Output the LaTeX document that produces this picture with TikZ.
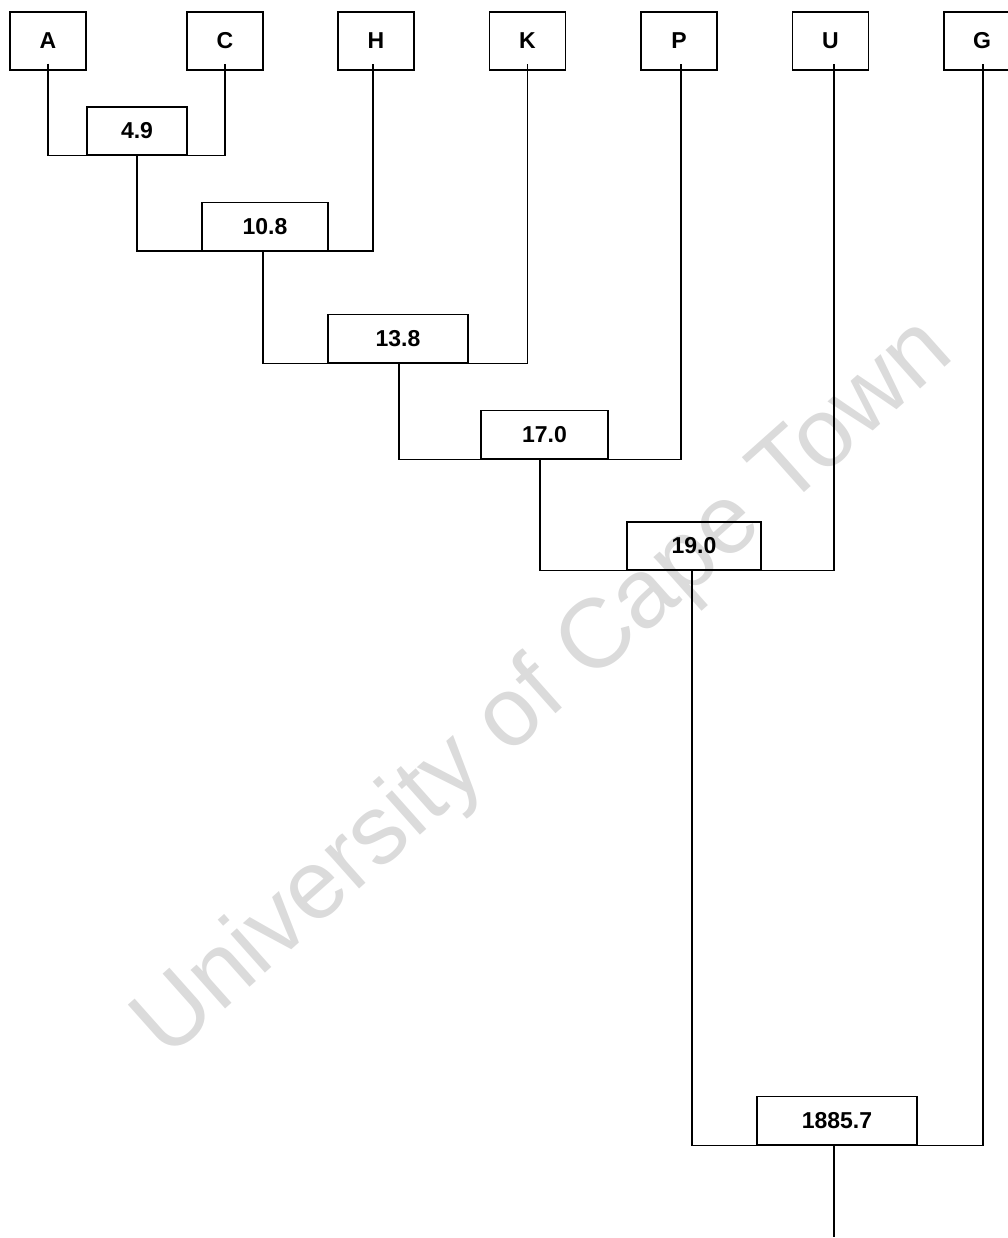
\documentclass[tikz,border=0pt]{standalone}
\usepackage{fontspec}
\setmainfont{Liberation Sans}
\begin{document}
\begin{tikzpicture}[x=1pt,y=-1pt,
  box/.style={draw, line width=1.3pt, inner sep=0pt, font=\fontsize{23}{27}\selectfont\bfseries},
  leaf/.style={box, minimum width=76pt, minimum height=58pt},
  merge/.style={box, minimum height=48pt},
  link/.style={line width=1.3pt},
  wmark/.style={text=black!14, font=\fontsize{98}{110}\selectfont}]
\useasboundingbox (0,0) rectangle (1008,1238);
\clip (0,0) rectangle (1008,1238);
% watermark
\node[wmark, rotate=41.7] (wm) at (545,690) {University of Cape Town};
% leaves
\node[leaf] (A) at (48,41) {A};
\node[leaf] (C) at (225,41) {C};
\node[leaf] (H) at (376,41) {H};
\node[leaf] (K) at (527.5,41) {K};
\node[leaf] (P) at (679,41) {P};
\node[leaf] (U) at (830.5,41) {U};
\node[leaf] (G) at (982,41) {G};
% merge nodes
\node[merge, minimum width=100pt] (n49) at (137,131) {4.9};
\node[merge, minimum width=126pt] (n108) at (265,226.5) {10.8};
\node[merge, minimum width=140pt] (n138) at (398,338.5) {13.8};
\node[merge, minimum width=127pt] (n170) at (544.5,434.5) {17.0};
\node[merge, minimum width=134pt] (n190) at (694,546) {19.0};
\node[merge, minimum width=160pt] (n1885) at (837,1120.5) {1885.7};
% connectors
\draw[link] ([yshift=7pt]A.south) |- (n49.south) -| ([yshift=7pt]C.south);
\draw[link] (n49.south) |- (n108.south) -| ([xshift=-3pt,yshift=7pt]H.south);
\draw[link] ([xshift=-2pt]n108.south) |- (n138.south) -| ([yshift=7pt]K.south);
\draw[link] ([xshift=1pt]n138.south) |- (n170.south) -| ([xshift=2pt,yshift=7pt]P.south);
\draw[link] ([xshift=-4.5pt]n170.south) |- (n190.south) -| ([xshift=3.5pt,yshift=7pt]U.south);
\draw[link] ([xshift=-2pt]n190.south) |- (n1885.south) -| ([xshift=1pt,yshift=7pt]G.south);
\coordinate (root) at ([xshift=-3pt,yshift=-92pt]n1885.south);
\draw[link] ([xshift=-3pt]n1885.south) -- (root);
\end{tikzpicture}
\end{document}
